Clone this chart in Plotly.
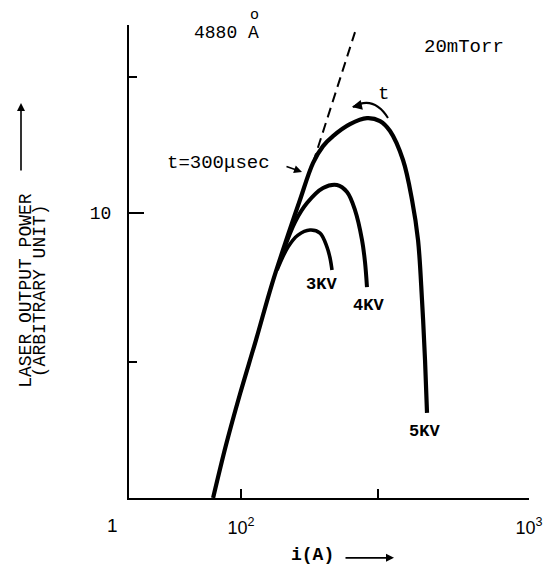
import plotly.graph_objects as go

# ---- data (i in A, power in arbitrary units) ----
i_5kv = [80.0, 88.7, 99.2, 112.7, 128.1, 145.6, 160.2, 177.8, 192.7, 208.7,
         239.0, 273.8, 303.9, 329.2, 365.2, 392.6, 411.8, 425.1, 435.5, 442.5]
p_5kv = [1.00, 1.534, 2.317, 3.584, 5.636, 8.373, 11.11, 14.98, 17.18, 18.63,
         20.52, 21.54, 21.03, 19.40, 15.35, 11.11, 8.04, 4.95, 3.05, 1.99]

i_4kv = [139.9, 154.0, 169.5, 192.7, 215.4, 233.4, 248.8, 263.2, 269.5, 273.8]
p_4kv = [7.30, 9.30, 10.84, 12.24, 12.54, 11.85, 10.24, 8.04, 6.73, 5.50]

i_3kv = [133.4, 145.6, 157.7, 173.6, 188.1, 198.9, 203.8, 207.0]
p_3kv = [6.31, 7.60, 8.37, 8.72, 8.51, 7.60, 6.95, 6.31]

i_dash = [177.8, 248.8]
p_dash = [14.98, 43.16]

x_tickvals = [100, 300, 1000]
x_ticktext = ["10<sup>2</sup>", "", "10<sup>3</sup>"]
y_tickvals = [10]
y_ticktext = ["10"]
y_minor = [3, 30]

MONO = "Liberation Mono"

fig = go.Figure()
for xs, ys, w in [(i_5kv, p_5kv, 4.2), (i_4kv, p_4kv, 4), (i_3kv, p_3kv, 3.6)]:
    fig.add_trace(go.Scatter(x=xs, y=ys, mode="lines",
                             line=dict(color="black", width=w, shape="spline", smoothing=1.0),
                             hoverinfo="skip", showlegend=False))
fig.add_trace(go.Scatter(x=i_dash, y=p_dash, mode="lines",
                         line=dict(color="black", width=2, dash="10px,6px"),
                         hoverinfo="skip", showlegend=False))

def txt(text, x, y, size=19, family=MONO, angle=0, bold=False):
    if bold:
        text = "<b>" + text + "</b>"
    fig.add_annotation(text=text, x=x, y=y, xref="paper", yref="paper",
                       xanchor="center", yanchor="middle", showarrow=False,
                       textangle=angle, font=dict(family=family, size=size, color="black"))

txt("4880 A", 0.2438, 0.9831, 18)
txt("o", 0.3125, 1.0211, 15)
txt("20mTorr", 0.8375, 0.9535, 19)
txt("t=300μsec", 0.2225, 0.7082, 19)
txt("t", 0.635, 0.8541, 19)
txt("3KV", 0.48, 0.4524, 17, bold=True)
txt("4KV", 0.5975, 0.408, 17, bold=True)
txt("5KV", 0.7375, 0.1416, 17, bold=True)
txt("1", -0.0425, -0.0571, 19, family="Liberation Sans")
txt("i(A)", 0.4575, -0.1205, 18, bold=True)
txt("LASER OUTPUT POWER", -0.258, 0.4397, 18, angle=-90)
txt("(ARBITRARY UNIT)", -0.222, 0.4376, 18, angle=-90)

def arrow(x, y, ax, ay, w=1.6):
    fig.add_annotation(text="", x=x, y=y, xref="paper", yref="paper",
                       ax=ax, ay=ay, showarrow=True, arrowhead=2, arrowsize=1,
                       arrowwidth=w, arrowcolor="black", standoff=0, startstandoff=0)

arrow(0.4325, 0.6892, -17, -6)        # t=300usec pointer
arrow(-0.27, 0.8351, 0, 69)           # y label arrow
arrow(0.6625, -0.1265, -50, 0)        # x label arrow
arrow(0.5575, 0.8266, 9, -2, 2)       # head of curved t arrow

fig.add_shape(type="path", xref="paper", yref="paper",
              path="M 0.6475,0.8034 Q 0.61125,0.8520 0.5600,0.8266",
              line=dict(color="black", width=2))

fig.update_layout(
    width=544, height=568,
    margin=dict(l=129, r=15, t=25, b=70, autoexpand=False),
    paper_bgcolor="white", plot_bgcolor="white",
    showlegend=False,
    xaxis=dict(type="log", range=[1.6111, 3.0], showline=True, linecolor="black",
               linewidth=2, ticks="inside", ticklen=9, tickwidth=2, tickcolor="black",
               tickmode="array", tickvals=x_tickvals, ticktext=x_ticktext,
               tickfont=dict(family="Liberation Sans", size=18, color="black"),
               ticklabelstandoff=12, automargin=False,
               showgrid=False, zeroline=False),
    yaxis=dict(type="log", range=[0, 1.66], showline=True, linecolor="black",
               linewidth=2, ticks="inside", ticklen=15, tickwidth=2, tickcolor="black",
               tickmode="array", tickvals=y_tickvals, ticktext=y_ticktext,
               tickfont=dict(family=MONO, size=18, color="black"),
               ticklabelstandoff=12, automargin=False,
               minor=dict(tickmode="array", tickvals=y_minor, ticks="inside",
                          ticklen=8, tickwidth=2, tickcolor="black", showgrid=False),
               showgrid=False, zeroline=False),
)

fig.write_html("out.html", config={"displayModeBar": False},
               post_script="document.body.style.margin='0';document.body.style.overflow='hidden';")
